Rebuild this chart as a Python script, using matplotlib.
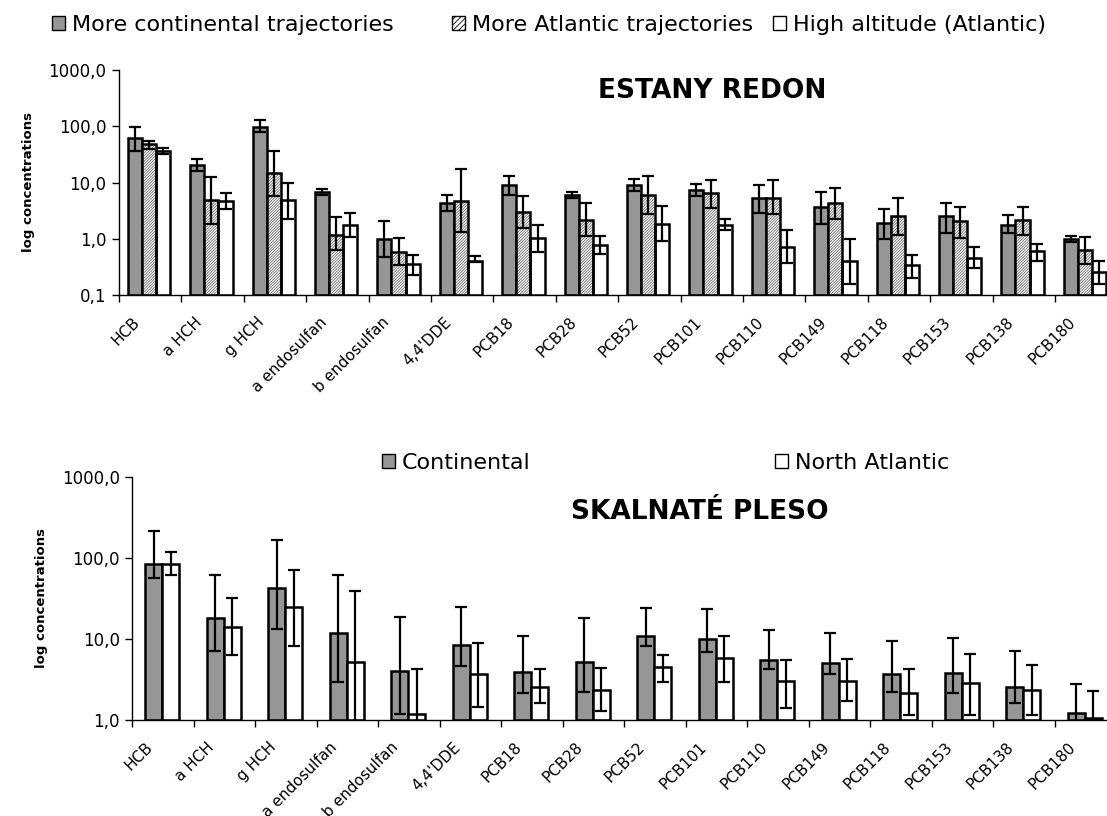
import numpy as np
import matplotlib
matplotlib.use("Agg")
import matplotlib.pyplot as plt
from matplotlib.patches import Patch
from matplotlib.ticker import NullLocator
import matplotlib.transforms as mtransforms

# Categories (same for both lakes)
categories = ["HCB", "a HCH", "g HCH", "a endosulfan", "b endosulfan", "4,4'DDE",
              "PCB18", "PCB28", "PCB52", "PCB101", "PCB110", "PCB149",
              "PCB118", "PCB153", "PCB138", "PCB180"]

# Estany Redon - bar values and error bar limits
redon_cont = [62, 20.7, 97, 6.9, 0.97, 4.4, 8.9, 6.1, 8.9, 7.4, 5.4, 3.65, 1.9, 2.5, 1.77, 1.0]
redon_cont_hi = [97, 26.4, 127, 7.8, 2.1, 6.0, 13, 6.9, 11.7, 9.5, 8.9, 6.8, 3.4, 4.4, 2.6, 1.11]
redon_cont_lo = [37, 15.7, 79, 6.1, 0.47, 3.1, 6.1, 5.4, 7.2, 5.7, 2.9, 1.85, 0.97, 1.26, 1.26, 0.87]

redon_atl = [48, 4.9, 14.7, 1.19, 0.58, 4.7, 3.0, 2.12, 6.1, 6.5, 5.4, 4.36, 2.5, 2.03, 2.12, 0.62]
redon_atl_hi = [54, 12.5, 37, 2.43, 1.04, 17.3, 5.7, 4.3, 13, 10.9, 10.9, 7.85, 5.37, 3.65, 3.65, 1.07]
redon_atl_lo = [40, 1.85, 5.7, 0.62, 0.34, 1.31, 1.55, 1.11, 2.7, 3.55, 2.7, 2.27, 1.15, 1.04, 1.19, 0.35]

redon_high = [37, 4.7, 4.9, 1.77, 0.35, 0.41, 1.04, 0.76, 1.85, 1.77, 0.71, 0.4, 0.34, 0.45, 0.6, 0.26]
redon_high_hi = [41.5, 6.5, 10, 2.9, 0.52, 0.485, 1.77, 1.11, 3.8, 2.27, 1.45, 0.97, 0.52, 0.71, 0.81, 0.4]
redon_high_lo = [32.5, 3.4, 2.27, 1.07, 0.23, 0.385, 0.58, 0.54, 0.91, 1.45, 0.37, 0.16, 0.2, 0.3, 0.4, 0.16]

# Skalnate Pleso
pleso_cont = [85, 17.9, 42, 11.9, 4.06, 8.3, 3.9, 5.2, 10.9, 9.9, 5.5, 5.1, 3.7, 3.85, 2.58, 1.21]
pleso_cont_hi = [216, 62, 166, 62, 18.5, 24.5, 10.9, 17.9, 24.3, 23.2, 12.9, 11.9, 9.5, 10.4, 7.0, 2.8]
pleso_cont_lo = [56, 7.1, 13.4, 2.97, 1.2, 4.6, 2.17, 2.24, 8.2, 6.9, 4.3, 3.7, 2.24, 2.15, 1.63, 0.8]

pleso_natl = [85, 14.2, 24.5, 5.2, 1.2, 3.7, 2.58, 2.34, 4.46, 5.76, 3.05, 3.05, 2.17, 2.83, 2.34, 1.05]
pleso_natl_hi = [117, 31.6, 70.7, 39.3, 4.2, 9.0, 4.2, 4.4, 6.3, 10.9, 5.5, 5.7, 4.2, 6.6, 4.8, 2.3]
pleso_natl_lo = [61, 6.3, 8.2, 0.8, 0.8, 1.45, 1.6, 1.3, 2.94, 2.94, 1.4, 1.7, 1.15, 1.15, 1.15, 0.8]

W, H = 1107, 816
GRAY = "#969696"
HATCH = "/" * 12

plt.rcParams["hatch.linewidth"] = 0.6

fig = plt.figure(figsize=(W / 100, H / 100), dpi=100)
ax1 = fig.add_axes([119 / W, 1 - 295 / H, 998.4 / W, 225 / H])
ax2 = fig.add_axes([132.3 / W, 1 - 720 / H, 984 / W, 243.3 / H])


def draw_bars(ax, x, vals, lo, hi, base, width, kind):
    vals = np.array(vals)
    heights = vals - base
    if kind == "gray":
        ax.bar(x, heights, width, bottom=base, color=GRAY, edgecolor="black", linewidth=1.8, zorder=2)
    elif kind == "hatch":
        ax.bar(x, heights, width, bottom=base, color="white", edgecolor="#707070",
               hatch=HATCH, linewidth=0, zorder=2)
        ax.bar(x, heights, width, bottom=base, fill=False, edgecolor="black", linewidth=1.8, zorder=3)
    else:
        ax.bar(x, heights, width, bottom=base, color="white", edgecolor="black", linewidth=1.8, zorder=2)
    yerr = [vals - np.array(lo), np.array(hi) - vals]
    ax.errorbar(x, vals, yerr=yerr, fmt="none", ecolor="black", elinewidth=1.6,
                capsize=4.6, capthick=1.6, zorder=4)


def style_axis(ax, ymin, yticks, ylabels):
    ax.set_yscale("log")
    ax.set_ylim(ymin, 1000)
    ax.set_yticks(yticks)
    ax.set_yticklabels(ylabels, fontsize=12)
    ax.yaxis.set_minor_locator(NullLocator())
    ax.set_xlim(-0.5, len(categories) - 0.5)
    ax.set_xticks(np.arange(len(categories) + 1) - 0.5)
    ax.set_xticklabels([])
    ax.set_xticks(np.arange(len(categories)), minor=True)
    ax.set_xticklabels(categories, minor=True, rotation=45, ha="right",
                       rotation_mode="anchor", fontsize=11)
    ax.tick_params(axis="x", which="major", direction="out", length=5, width=1)
    ax.tick_params(axis="x", which="minor", length=0, pad=14)
    ax.tick_params(axis="y", direction="out", length=5, width=1, pad=4)
    offset = mtransforms.ScaledTranslation(-18 / 100, 0, fig.dpi_scale_trans)
    for lab in ax.get_xticklabels(minor=True):
        lab.set_transform(lab.get_transform() + offset)
    for side in ["top", "right"]:
        ax.spines[side].set_visible(False)
    ax.spines["left"].set_linewidth(1)
    ax.spines["bottom"].set_linewidth(1)
    ax.set_ylabel("log concentrations", fontsize=9.5, fontweight="bold", labelpad=10)


x = np.arange(len(categories))

# top chart
w1 = 0.227
c1 = x - 0.02
draw_bars(ax1, c1 - w1, redon_cont, redon_cont_lo, redon_cont_hi, 0.1, w1, "gray")
draw_bars(ax1, c1, redon_atl, redon_atl_lo, redon_atl_hi, 0.1, w1, "hatch")
draw_bars(ax1, c1 + w1, redon_high, redon_high_lo, redon_high_hi, 0.1, w1, "white")
style_axis(ax1, 0.1, [0.1, 1, 10, 100, 1000], ["0,1", "1,0", "10,0", "100,0", "1000,0"])
ax1.text(712 / W, 1 - 91 / H, "ESTANY REDON", transform=fig.transFigure, fontsize=19,
         fontweight="bold", ha="center", va="center")

# bottom chart
w2 = 0.275
c2 = x - 0.015
draw_bars(ax2, c2 - w2 / 2, pleso_cont, pleso_cont_lo, pleso_cont_hi, 1.0, w2, "gray")
draw_bars(ax2, c2 + w2 / 2, pleso_natl, pleso_natl_lo, pleso_natl_hi, 1.0, w2, "white")
style_axis(ax2, 1.0, [1, 10, 100, 1000], ["1,0", "10,0", "100,0", "1000,0"])
ax2.text(700 / W, 1 - 512 / H, "SKALNATÉ PLESO", transform=fig.transFigure, fontsize=19,
         fontweight="bold", ha="center", va="center")


def add_key(x_px, y_px, label, **patch_kw):
    handle = Patch(linewidth=1, edgecolor="black", **patch_kw)
    leg = fig.legend(handles=[handle], labels=[label], loc="center left",
                     bbox_to_anchor=(x_px / W, 1 - y_px / H), frameon=False, fontsize=16,
                     handlelength=0.6, handleheight=0.6, handletextpad=0.3,
                     borderaxespad=0, borderpad=0)
    return leg


add_key(52, 25, "More continental trajectories", facecolor=GRAY)
add_key(452, 25, "More Atlantic trajectories", facecolor="white", hatch="//////")
add_key(773, 25, "High altitude (Atlantic)", facecolor="white")
add_key(382, 463, "Continental", facecolor=GRAY)
add_key(775, 463, "North Atlantic", facecolor="white")

fig.savefig("out.png", dpi=100)
